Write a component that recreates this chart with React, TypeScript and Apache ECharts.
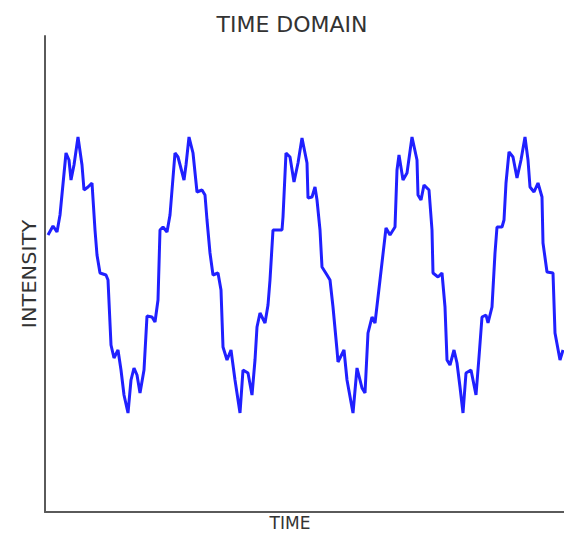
import React, { useEffect, useRef } from "react";
import * as echarts from "echarts";

const titleText = "TIME DOMAIN";
const xLabel = "TIME";
const yLabel = "INTENSITY";

const time = [
  0.03, 0.08, 0.12, 0.15, 0.21, 0.24, 0.26, 0.29, 0.33, 0.37, 0.39, 0.43, 0.47, 0.5, 0.52, 0.55, 0.61, 0.63,
  0.66, 0.69, 0.73, 0.76, 0.79, 0.83, 0.86, 0.89, 0.92, 0.95, 0.99, 1.02, 1.07, 1.1, 1.13, 1.15,
  1.18, 1.22, 1.25, 1.3, 1.33, 1.39, 1.41, 1.44, 1.48, 1.52, 1.57, 1.6, 1.62, 1.65, 1.68, 1.73, 1.76,
  1.78, 1.82, 1.86, 1.9, 1.95, 1.98, 2.03, 2.07, 2.1, 2.12, 2.15, 2.2, 2.23, 2.25,
  2.28, 2.37, 2.38, 2.41, 2.45, 2.49, 2.53, 2.57, 2.62, 2.63, 2.67, 2.7, 2.72, 2.75, 2.77, 2.82, 2.85,
  2.88, 2.92, 2.93, 2.99, 3.02, 3.08, 3.12, 3.17, 3.2, 3.23, 3.27, 3.3, 3.35,
  3.41, 3.45, 3.5, 3.52, 3.54, 3.58, 3.62, 3.67, 3.72, 3.73, 3.76, 3.79, 3.84, 3.87, 3.88, 3.93, 3.97,
  4.0, 4.02, 4.05, 4.09, 4.12, 4.15, 4.18, 4.21, 4.26, 4.31, 4.34, 4.37, 4.41, 4.43, 4.47,
  4.5, 4.52, 4.57, 4.59, 4.61, 4.64, 4.68, 4.72, 4.76, 4.8, 4.83, 4.85, 4.89, 4.93, 4.97, 4.98, 5.02,
  5.08, 5.1, 5.15, 5.18,
];

const intensity = [
  0.39, 0.48, 0.42, 0.59, 1.21, 1.14, 0.94, 1.09, 1.37, 1.09, 0.84, 0.87, 0.91, 0.44, 0.19, 0.01, -0.01, -0.06,
  -0.71, -0.84, -0.76, -0.96, -1.21, -1.39, -1.06, -0.94, -1.01, -1.19, -0.96, -0.42, -0.43, -0.48, -0.26, 0.44,
  0.47, 0.42, 0.59, 1.21, 1.17, 0.94, 1.09, 1.37, 1.21, 0.82, 0.84, 0.79, 0.54, 0.21, -0.01, 0.01, -0.16,
  -0.73, -0.86, -0.76, -1.06, -1.39, -0.96, -0.99, -1.21, -0.86, -0.53, -0.39, -0.49, -0.31, -0.06,
  0.44, 0.44, 0.57, 1.21, 1.17, 0.92, 1.11, 1.36, 1.11, 0.76, 0.77, 0.87, 0.74, 0.44, 0.07, -0.01, -0.06,
  -0.33, -0.76, -0.88, -0.76, -1.06, -1.39, -0.94, -1.14, -1.19, -0.59, -0.43, -0.49, -0.06,
  0.46, 0.39, 0.47, 1.04, 1.19, 0.94, 1.01, 1.37, 1.14, 0.79, 0.74, 0.89, 0.84, 0.44, 0.01, -0.03, 0.01,
  -0.33, -0.86, -0.91, -0.76, -0.89, -1.13, -1.39, -0.99, -0.96, -1.21, -0.83, -0.43, -0.41, -0.49, -0.33,
  0.21, 0.47, 0.47, 0.54, 0.91, 1.22, 1.17, 0.96, 1.14, 1.37, 1.14, 0.87, 0.82, 0.91, 0.77, 0.31, 0.02,
  0.01, -0.59, -0.86, -0.76,
];

export default function App() {
  const ref = useRef<HTMLDivElement>(null);
  useEffect(() => {
    document.body.style.margin = "0";
    const chart = echarts.init(ref.current!, null, { renderer: "svg" });
    const axisCommon = {
      type: "value" as const,
      axisLine: { show: true, onZero: false, lineStyle: { color: "#5a5a5a", width: 2 } },
      axisTick: { show: false },
      axisLabel: { show: false },
      splitLine: { show: false },
    };
    const font = "DejaVu Sans, sans-serif";
    chart.setOption({
      animation: false,
      grid: { left: 45, right: 0, top: 36, bottom: 21 },
      xAxis: { ...axisCommon, min: 0, max: 5.19 },
      yAxis: { ...axisCommon, min: -2.38, max: 2.38 },
      series: [
        {
          type: "line",
          data: time.map((t, i) => [t, intensity[i]]),
          symbol: "none",
          showSymbol: false,
          lineStyle: { color: "#2020ff", width: 3 },
          z: 3,
        },
      ],
      graphic: [
        {
          type: "text",
          x: 292,
          y: 24,
          style: { text: titleText, fill: "#333333", font: `22px ${font}`, align: "center", verticalAlign: "middle" },
        },
        {
          type: "text",
          x: 290,
          y: 523,
          style: { text: xLabel, fill: "#333333", font: `17px ${font}`, align: "center", verticalAlign: "middle" },
        },
        {
          type: "text",
          x: 29,
          y: 274,
          rotation: Math.PI / 2,
          scaleX: 1.1,
          style: { text: yLabel, fill: "#333333", font: `19px ${font}`, align: "center", verticalAlign: "middle" },
        },
      ],
    });
    return () => chart.dispose();
  }, []);
  return <div ref={ref} style={{ width: 564, height: 533 }} />;
}
